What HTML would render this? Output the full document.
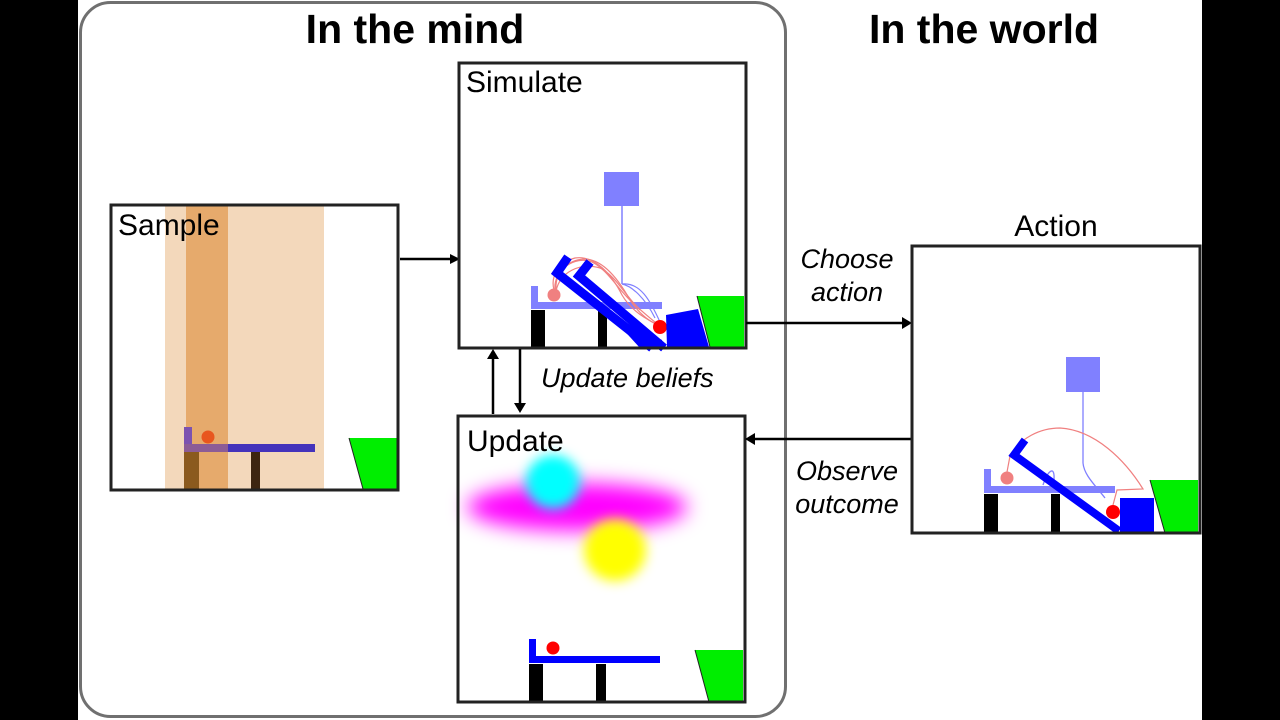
<!DOCTYPE html>
<html><head><meta charset="utf-8">
<style>
html,body{margin:0;padding:0;background:#000;}
svg{display:block;}
text{font-family:"Liberation Sans",Arial,sans-serif;}
</style></head>
<body>
<svg width="1280" height="720" viewBox="0 0 1280 720" xmlns="http://www.w3.org/2000/svg">
<defs>
  <filter id="b1" x="-50%" y="-50%" width="200%" height="200%"><feGaussianBlur stdDeviation="10"/></filter>
  <filter id="b2" x="-50%" y="-50%" width="200%" height="200%"><feGaussianBlur stdDeviation="6"/></filter>
</defs>
<rect x="0" y="0" width="1280" height="720" fill="#000"/>
<rect x="78" y="0" width="1124" height="720" fill="#fff"/>

<rect x="80.5" y="2.5" width="705" height="714" rx="30" ry="30" fill="none" stroke="#707070" stroke-width="3"/>

<text x="415" y="43" font-size="41" font-weight="bold" text-anchor="middle" fill="#000">In the mind</text>
<text x="984" y="43" font-size="41" font-weight="bold" text-anchor="middle" fill="#000">In the world</text>

<!-- SAMPLE -->
<rect x="111" y="205" width="287" height="285" fill="#fff"/>
<rect x="165" y="206" width="159" height="283" fill="#f3d8bb"/>
<rect x="186" y="206" width="42" height="283" fill="#e6aa6c"/>
<rect x="184" y="427" width="8" height="25" fill="#7c52b0"/>
<rect x="184" y="444" width="44" height="8" fill="#8c5c96"/>
<rect x="228" y="444" width="87" height="8" fill="#4433bb"/>
<rect x="184" y="452" width="15" height="37" fill="#8b5a1e"/>
<rect x="251" y="452" width="9" height="37" fill="#3d2510"/>
<circle cx="208" cy="437" r="6.5" fill="#e8561e"/>
<polygon points="349,438 397,438 397,489 363,489" fill="#00ee00"/>
<path d="M349,438 L363,489" stroke="#222" stroke-width="1"/>
<rect x="111" y="205" width="287" height="285" fill="none" stroke="#222" stroke-width="3"/>
<text x="118" y="235" font-size="30" fill="#000">Sample</text>

<line x1="400" y1="259" x2="452" y2="259" stroke="#000" stroke-width="2.5"/>
<polygon points="460,259 450,254 450,264" fill="#000"/>

<!-- SIMULATE -->
<rect x="459" y="63" width="287" height="285" fill="#fff" stroke="#222" stroke-width="3"/>
<text x="466" y="92" font-size="30" fill="#000">Simulate</text>
<rect x="604" y="172" width="35" height="34" fill="#8080ff"/>
<line x1="622" y1="206" x2="622" y2="284" stroke="#8080ff" stroke-width="1.5"/>
<rect x="531" y="286" width="7" height="22" fill="#8080ff"/>
<rect x="531" y="302" width="131" height="7" fill="#8080ff"/>
<rect x="531" y="310" width="14" height="37" fill="#000"/>
<rect x="598" y="310" width="9" height="37" fill="#000"/>
<circle cx="554" cy="295" r="6.5" fill="#f08080"/>
<g fill="none" stroke="#f08080" stroke-width="1.2">
  <path d="M554,290 C550,275 560,262 575,258 C595,255 612,275 622,295 C632,312 648,320 660,326"/>
  <path d="M556,289 C555,272 568,260 584,259 C604,259 620,282 630,300 C640,315 650,322 660,326"/>
  <path d="M555,290 C553,270 575,255 592,262 C608,270 618,290 635,305 C645,314 652,320 660,326"/>
  <path d="M556,291 C560,272 580,262 600,268 C615,275 625,295 640,310"/>
</g>
<g fill="none" stroke="#8080ff" stroke-width="1.2">
  <path d="M622,284 C640,282 650,300 660,322"/>
  <path d="M622,284 C632,286 645,298 655,318"/>
</g>
<polyline points="568,257 557,273 652,348" fill="none" stroke="#0000ff" stroke-width="9" stroke-linejoin="miter"/>
<polyline points="590,262 579,276 664,348" fill="none" stroke="#0000ff" stroke-width="9" stroke-linejoin="miter"/>
<polygon points="610,315 662,340 662,348 640,348" fill="#0000ff"/>
<circle cx="660" cy="327" r="7" fill="#ff0000"/>
<polygon points="666,315 698,309 709,347 667,347" fill="#0000ff"/>
<polygon points="697,296 744,296 744,347 710,347" fill="#00ee00"/>
<path d="M697,296 L710,347" stroke="#222" stroke-width="1"/>
<rect x="459" y="63" width="287" height="285" fill="none" stroke="#222" stroke-width="3"/>

<line x1="493" y1="414" x2="493" y2="357" stroke="#000" stroke-width="2.5"/>
<polygon points="493,349 487,359 499,359" fill="#000"/>
<line x1="520" y1="349" x2="520" y2="404" stroke="#000" stroke-width="2.5"/>
<polygon points="520,413 514,403 526,403" fill="#000"/>
<text x="541" y="387" font-size="27" font-style="italic" fill="#000">Update beliefs</text>

<!-- UPDATE -->
<rect x="458" y="416" width="287" height="286" fill="#fff"/>
<ellipse cx="577" cy="507" rx="110" ry="24" fill="#ff00ff" filter="url(#b1)"/>
<circle cx="553" cy="482" r="27" fill="#00ffff" filter="url(#b2)"/>
<circle cx="615" cy="550" r="31" fill="#ffff00" filter="url(#b2)"/>
<rect x="529" y="639" width="7" height="24" fill="#0000ff"/>
<rect x="529" y="656" width="131" height="7" fill="#0000ff"/>
<rect x="529" y="664" width="14" height="38" fill="#000"/>
<rect x="596" y="664" width="10" height="38" fill="#000"/>
<circle cx="553" cy="648" r="6.5" fill="#ff0000"/>
<polygon points="695,650 743,650 743,702 709,702" fill="#00ee00"/>
<path d="M695,650 L709,702" stroke="#222" stroke-width="1"/>
<rect x="458" y="416" width="287" height="286" fill="none" stroke="#222" stroke-width="3"/>
<text x="467" y="451" font-size="30" fill="#000">Update</text>

<line x1="746" y1="323" x2="903" y2="323" stroke="#000" stroke-width="2.5"/>
<polygon points="912,323 902,317 902,329" fill="#000"/>
<line x1="912" y1="439" x2="754" y2="439" stroke="#000" stroke-width="2.5"/>
<polygon points="745,439 755,433 755,445" fill="#000"/>
<g font-size="27" font-style="italic" text-anchor="middle" fill="#000">
  <text x="847" y="268">Choose</text>
  <text x="847" y="301">action</text>
  <text x="847" y="480">Observe</text>
  <text x="847" y="513">outcome</text>
</g>

<!-- ACTION -->
<text x="1056" y="236" font-size="30" text-anchor="middle" fill="#000">Action</text>
<rect x="912" y="246" width="288" height="287" fill="#fff"/>
<rect x="1066" y="357" width="34" height="35" fill="#8080ff"/>
<path d="M1083,392 L1083,463 C1084,475 1095,485 1105,498" fill="none" stroke="#8080ff" stroke-width="1.3"/>
<path d="M1043,485 C1048,470 1055,465 1054,480 L1052,486" fill="none" stroke="#8080ff" stroke-width="1.3"/>
<rect x="984" y="469" width="7" height="23" fill="#8080ff"/>
<rect x="984" y="486" width="131" height="7" fill="#8080ff"/>
<rect x="984" y="494" width="14" height="38" fill="#000"/>
<rect x="1051" y="494" width="9" height="38" fill="#000"/>
<circle cx="1007" cy="478" r="6.5" fill="#f08080"/>
<path d="M1007,472 L1010,456 C1020,438 1040,428 1060,428 C1095,430 1125,460 1143,489 L1117,490 L1113,505" fill="none" stroke="#f08080" stroke-width="1.2"/>
<polyline points="1025,440 1014,455 1119,531" fill="none" stroke="#0000ff" stroke-width="8" stroke-linejoin="miter"/>
<circle cx="1113" cy="512" r="7" fill="#ff0000"/>
<rect x="1120" y="498" width="34" height="35" fill="#0000ff"/>
<polygon points="1150,480 1198,480 1198,533 1165,533" fill="#00ee00"/>
<path d="M1150,480 L1165,533" stroke="#222" stroke-width="1"/>
<rect x="912" y="246" width="288" height="287" fill="none" stroke="#222" stroke-width="3"/>
</svg>
</body></html>
